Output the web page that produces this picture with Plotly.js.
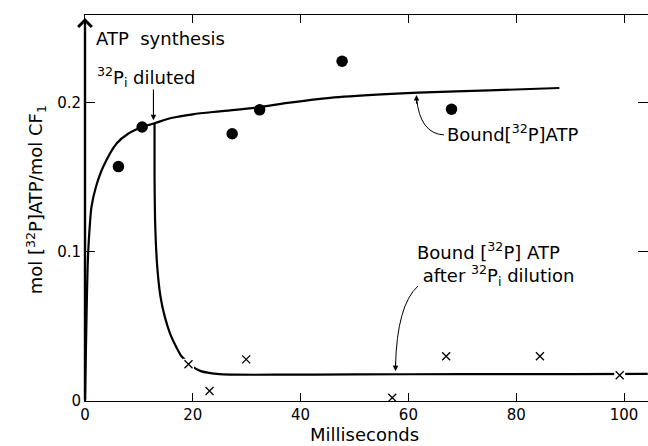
<!DOCTYPE html>
<html>
<head>
<meta charset="utf-8">
<script src="https://cdn.plot.ly/plotly-3.0.1.min.js"></script>
<style>html,body{margin:0;padding:0;background:#fff;}#chart{width:648px;height:446px;}</style>
</head>
<body>
<div id="chart"></div>
<script>
// Measured points: bound [32P]ATP during synthesis (filled circles)
const boundT = [6.2, 10.6, 27.3, 32.4, 47.7, 68.0];
const boundATP = [0.157, 0.1835, 0.179, 0.195, 0.2275, 0.1954];
// Measured points after 32Pi dilution (crosses)
const dilT = [19.2, 23.1, 29.9, 57.0, 67.0, 84.4, 99.2];
const dilATP = [0.0246, 0.0067, 0.0279, 0.0022, 0.030, 0.030, 0.0172];
// Drawn curve: bound [32P]ATP
const fitT = [0, 0.15, 0.3, 0.45, 0.6, 0.9, 1.2, 2, 3.4, 5.9, 8, 10.6, 12.9, 16, 20, 25, 31.7, 38, 45.5, 55, 61.8, 75, 88];
const fitATP = [0, 0.03, 0.06, 0.085, 0.1, 0.118, 0.13, 0.143, 0.157, 0.1726, 0.179, 0.1835, 0.186, 0.1895, 0.192, 0.194, 0.1965, 0.1998, 0.2030, 0.2053, 0.2065, 0.208, 0.2096];
// Drawn curve: after dilution
const decT = [12.9, 12.9, 13.0, 13.4, 14.0, 14.8, 15.8, 16.9, 17.9, 19.2, 20.2, 21.5, 23.0, 25.0, 28, 35, 50, 70, 90, 104.4];
const decATP = [0.186, 0.15, 0.121, 0.09, 0.07, 0.0565, 0.045, 0.0364, 0.030, 0.0255, 0.0223, 0.020, 0.0188, 0.018, 0.0176, 0.0176, 0.0178, 0.018, 0.018, 0.0182];
// Axis ticks
const xTicks = [0, 20, 40, 60, 80, 100];
const xTickText = ['0', '20', '40', '60', '80', '100'];
const yTicks = [0, 0.1, 0.2];
const yTickText = ['0', '0.1', '0.2'];

const FONT = 'DejaVu Sans, Liberation Sans, Arial, sans-serif';

const traces = [
  {x: fitT, y: fitATP, mode: 'lines', line: {color: '#000', width: 2.2, shape: 'spline', smoothing: 0.8}, hoverinfo: 'skip'},
  {x: decT, y: decATP, mode: 'lines', line: {color: '#000', width: 2.2, shape: 'spline', smoothing: 0.5}, hoverinfo: 'skip'},
  {x: dilT, y: dilATP, mode: 'markers', marker: {symbol: 'square', size: 11, color: '#fff', line: {width: 0}}, hoverinfo: 'skip'},
  {x: dilT, y: dilATP, mode: 'markers', marker: {symbol: 'x-thin-open', size: 8, color: '#000', line: {color: '#000', width: 1.3}}},
  {x: boundT, y: boundATP, mode: 'markers', marker: {symbol: 'circle', size: 11.5, color: '#000'}}
];

const layout = {
  width: 648, height: 446,
  margin: {l: 85, r: 0, t: 15, b: 45, pad: 0},
  paper_bgcolor: '#fff', plot_bgcolor: '#fff',
  showlegend: false,
  font: {family: FONT, color: '#000', size: 15},
  xaxis: {
    range: [0, 104.45], showgrid: false, zeroline: false,
    showline: true, linecolor: '#000', linewidth: 1, mirror: 'ticks',
    ticks: 'inside', ticklen: 8, tickwidth: 1, tickcolor: '#000',
    tickvals: xTicks, ticktext: xTickText, tickfont: {size: 15, family: FONT}
  },
  yaxis: {
    range: [0, 0.2585], showgrid: false, zeroline: false,
    showline: true, linecolor: '#000', linewidth: 1, mirror: 'ticks',
    ticks: 'inside', ticklen: 10, tickwidth: 1, tickcolor: '#000',
    tickvals: yTicks, ticktext: yTickText, tickfont: {size: 15, family: FONT}
  },
  shapes: [
    {type: 'path', xref: 'x', yref: 'y', path: 'M 66.6,0.1782 Q 62.15,0.1789 61.5,0.2030', line: {color: '#000', width: 1}},
    {type: 'path', xref: 'x', yref: 'y', path: 'M 61.78,0.0770 Q 57.88,0.0643 57.6,0.0230', line: {color: '#000', width: 1}}
  ],
  annotations: [
    // thick y axis with arrow
    {x: 0, y: 0.2565, ax: 0, ay: 0, xref: 'x', yref: 'y', axref: 'x', ayref: 'y', text: '', showarrow: true, arrowhead: 4, arrowsize: 1.1, arrowwidth: 2.4, arrowcolor: '#000'},
    {x: 1.67, y: 0.2425, xref: 'x', yref: 'y', xanchor: 'left', yanchor: 'middle', showarrow: false, text: 'ATP\u00a0 synthesis', font: {size: 18, family: FONT}},
    {x: 1.86, y: 0.2172, xref: 'x', yref: 'y', xanchor: 'left', yanchor: 'middle', showarrow: false, text: '<sup>32</sup>P<sub>i</sub> diluted', font: {size: 18, family: FONT}},
    {x: 12.7, y: 0.188, ax: 12.7, ay: 0.2096, xref: 'x', yref: 'y', axref: 'x', ayref: 'y', text: '', showarrow: true, arrowhead: 2, arrowsize: 1, arrowwidth: 1.1, arrowcolor: '#000'},
    {x: 66.7, y: 0.1795, xref: 'x', yref: 'y', xanchor: 'left', yanchor: 'middle', showarrow: false, text: 'Bound[<sup>32</sup>P]ATP', font: {size: 18, family: FONT}},
    {x: 61.5, y: 0.2049, ax: 61.52, ay: 0.198, xref: 'x', yref: 'y', axref: 'x', ayref: 'y', text: '', showarrow: true, arrowhead: 2, arrowsize: 1, arrowwidth: 1.1, arrowcolor: '#000'},
    {x: 61.2, y: 0.0916, xref: 'x', yref: 'y', xanchor: 'left', yanchor: 'middle', align: 'left', showarrow: false, text: 'Bound [<sup>32</sup>P] ATP<br>\u00a0after <sup>32</sup>P<sub>i</sub> dilution', font: {size: 18, family: FONT}},
    {x: 57.6, y: 0.0200, ax: 57.62, ay: 0.027, xref: 'x', yref: 'y', axref: 'x', ayref: 'y', text: '', showarrow: true, arrowhead: 2, arrowsize: 1, arrowwidth: 1.1, arrowcolor: '#000'},
    // axis titles
    {x: 0.497, y: -0.088, xref: 'paper', yref: 'paper', xanchor: 'center', yanchor: 'middle', showarrow: false, text: 'Milliseconds', font: {size: 18, family: FONT}},
    {x: -0.087, y: 0.52, xref: 'paper', yref: 'paper', xanchor: 'center', yanchor: 'middle', textangle: -90, showarrow: false, text: 'mol [<sup>32</sup>P]ATP/mol CF<sub>1</sub>', font: {size: 18, family: FONT}}
  ]
};

Plotly.newPlot('chart', traces, layout, {displayModeBar: false, staticPlot: true});
</script>
</body>
</html>
